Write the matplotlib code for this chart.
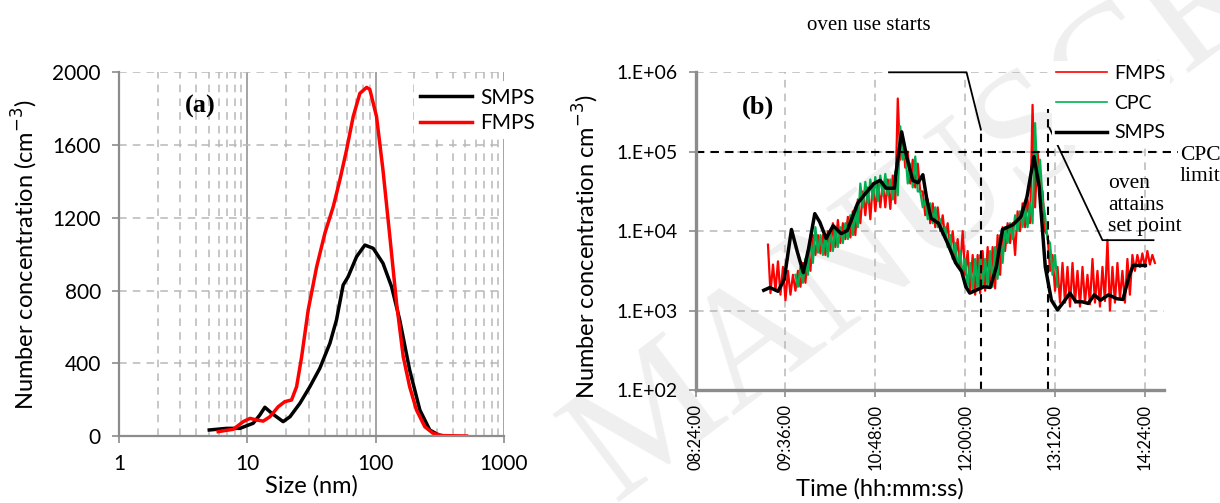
import matplotlib
matplotlib.use('Agg')
import matplotlib.pyplot as plt
from matplotlib.ticker import FixedLocator, NullFormatter
import numpy as np

plt.rcParams['font.family'] = ['Lato', 'DejaVu Sans']

# ---- panel (a): size distributions ----
smps_size = [5.05, 6.9, 8.75, 11.1, 12.5, 13.7, 15.5, 19, 21.5, 25.7, 30.7, 36.7, 44, 49.5,
             55.8, 61, 71, 82.4, 95.7, 114, 133, 154, 184, 221, 264, 316, 350]
smps_conc = [33, 42, 42, 70, 115, 158, 125, 79, 106, 180, 271, 372, 510, 638,
             830, 876, 986, 1050, 1032, 950, 821, 638, 363, 143, 33, 2, 0]
fmps_size = [5.93, 7.77, 9.3, 10.5, 11.8, 13.3, 15, 17.4, 19.6, 22.1, 24.2, 26.5, 29.8, 34.7,
             40.2, 46.7, 52.6, 59.3, 66.8, 75.3, 85, 90, 101.6, 114, 129, 145.5, 164, 184,
             208, 241.5, 280, 336, 511]
fmps_conc = [24, 37, 79, 97, 88, 82, 106, 161, 189, 198, 271, 436, 693, 931,
             1115, 1261, 1408, 1573, 1756, 1884, 1917, 1906, 1756, 1463, 1096, 730, 436, 271,
             143, 51, 15, 2, 0]

# ---- panel (b): time series, minutes after 08:24 ----
time_ticks = [0, 72, 144, 216, 288, 360]
time_labels = ['08:24:00', '09:36:00', '10:48:00', '12:00:00', '13:12:00', '14:24:00']

# FMPS / CPC noisy traces: upper and lower edge of the trace every 4 min (log10 cm^-3)
fmps_t = list(range(58, 367, 4))
fmps_hi = [3.83, 3.58, 3.62, 3.55, 3.50, 3.45, 3.50, 3.60, 3.75, 3.95, 3.95, 3.95, 4.00, 4.10,
           4.14, 4.10, 4.18, 4.25, 4.40, 4.50, 4.55, 4.60, 4.60, 4.62, 4.65, 4.70, 5.67, 5.20,
           5.00, 4.90, 4.85, 4.50, 4.40, 4.35, 4.30, 4.20, 4.10, 4.00, 3.90, 4.00, 3.75, 3.70,
           3.70, 3.75, 3.80, 3.80, 3.95, 4.05, 4.10, 4.10, 4.25, 4.35, 4.40, 5.59, 5.00, 4.50,
           3.95, 3.70, 3.55, 3.60, 3.55, 3.60, 3.50, 3.55, 3.45, 3.65, 3.50, 3.55, 3.89, 3.55,
           3.60, 3.50, 3.65, 3.70, 3.70, 3.72, 3.75, 3.70]
fmps_lo = [3.22, 3.25, 3.20, 3.13, 3.20, 3.25, 3.30, 3.35, 3.50, 3.70, 3.72, 3.70, 3.75, 3.80,
           3.85, 3.90, 3.92, 3.95, 4.10, 4.20, 4.15, 4.25, 4.30, 4.30, 4.28, 4.35, 4.90, 4.80,
           4.60, 4.55, 4.50, 4.20, 4.10, 4.05, 4.00, 3.90, 3.75, 3.65, 3.55, 3.45, 3.25, 3.20,
           3.22, 3.25, 3.30, 3.28, 3.45, 3.75, 3.85, 3.70, 4.00, 4.05, 4.10, 4.30, 4.60, 4.00,
           3.50, 3.25, 3.10, 3.10, 3.05, 3.10, 3.05, 3.10, 3.08, 3.10, 3.05, 3.12, 3.00, 3.10,
           3.15, 3.10, 3.20, 3.50, 3.55, 3.55, 3.58, 3.60]

cpc_t = list(range(80, 289, 4))
cpc_hi = [3.45, 3.55, 3.65, 3.95, 4.05, 3.95, 3.95, 4.00, 4.05, 4.05, 4.10, 4.20, 4.30, 4.60,
          4.62, 4.65, 4.68, 4.70, 4.72, 4.65, 4.75, 5.32, 5.00, 4.85, 4.94, 4.50, 4.40, 4.35,
          4.30, 4.15, 4.05, 3.95, 3.85, 3.75, 3.65, 3.60, 3.65, 3.70, 3.65, 3.75, 3.80, 3.95,
          4.05, 4.10, 4.20, 4.25, 4.30, 4.35, 5.36, 4.90, 4.20, 3.85, 3.70]
cpc_lo = [3.30, 3.35, 3.45, 3.60, 3.73, 3.70, 3.68, 3.75, 3.80, 3.85, 3.90, 3.95, 4.05, 4.30,
          4.35, 4.40, 4.38, 4.45, 4.45, 4.40, 4.45, 4.90, 4.60, 4.55, 4.50, 4.30, 4.15, 4.10,
          4.05, 3.95, 3.80, 3.65, 3.55, 3.45, 3.30, 3.25, 3.30, 3.30, 3.32, 3.30, 3.40, 3.60,
          3.85, 3.90, 4.00, 4.05, 4.05, 4.10, 4.60, 4.40, 3.90, 3.45, 3.30]

smps_t = [54.6, 59.5, 66, 71, 76.8, 81.5, 86.3, 90.5, 95.5, 99.5, 104.6, 110.2, 116.7, 121.6,
          129.8, 136.4, 142.9, 147.8, 152.7, 159.3, 160.9, 165.1, 169.1, 174, 178.2, 182.1,
          185.4, 188.7, 194.6, 201.8, 208.3, 213.2, 216.5, 219.7, 224.6, 231.2, 236.1, 241,
          245.9, 254.1, 260.6, 265.5, 271.1, 275.3, 280.2, 285.1, 290, 295, 299.9, 304.8,
          309.7, 314.6, 319.5, 324.4, 330.9, 337.5, 342.4, 347.3, 350.6, 360.4]
smps_conc_t = [1800, 1950, 1750, 2450, 10500, 5500, 3000, 6000, 16600, 13000, 8100, 11700, 9300,
               10200, 22400, 30200, 39800, 43600, 34700, 34700, 58900, 178000, 87100, 43600,
               40700, 51300, 24500, 14500, 12600, 7100, 4000, 3100, 2000, 1660, 1800, 2000,
               1950, 3550, 10500, 12000, 15100, 26900, 87100, 36300, 3550, 1350, 1020, 1290,
               1660, 1290, 1290, 1230, 1580, 1350, 1580, 1410, 1380, 2690, 3700, 3700]

cpc_limit = 1e5
oven_start = 228.6
oven_setpoint = 282.5

GRID = '#b8b8b8'
SPINE = '#8c8c8c'


def zigzag(t, hi, lo, step):
    xs, ys = [], []
    for ti, h, l in zip(t, hi, lo):
        xs += [ti, ti + step / 2]
        ys += [10 ** h, 10 ** l]
    return xs, ys


fig = plt.figure(figsize=(12.2, 5.03), dpi=100)

# faint watermark behind everything
fig.text(590 / 1220, 1 - 470 / 503, 'MANUSCRIPT', family='Liberation Serif', fontsize=120,
         color='#efefef', rotation=37, rotation_mode='anchor', ha='left', va='center', zorder=-5)

# ---------------- panel (a) ----------------
ax1 = fig.add_axes([119 / 1220, 1 - 436 / 503, 385 / 1220, 363.7 / 503])
ax1.patch.set_alpha(0)
ax1.set_xscale('log')
ax1.set_xlim(1, 1000)
ax1.set_ylim(0, 2000)
ax1.set_yticks([0, 400, 800, 1200, 1600, 2000])
ax1.set_xticks([1, 10, 100, 1000])
ax1.set_xticklabels(['1', '10', '100', '1000'])
ax1.xaxis.set_minor_locator(FixedLocator([m * 10 ** e for e in range(3) for m in range(2, 10)]))
ax1.xaxis.set_minor_formatter(NullFormatter())
ax1.tick_params(axis='x', which='minor', length=0)
ax1.grid(True, which='minor', axis='x', color=GRID, linestyle=(0, (5, 4)), linewidth=1.1)
ax1.grid(True, which='major', axis='x', color=SPINE, linestyle='-', linewidth=1.1)
ax1.grid(True, which='major', axis='y', color=GRID, linestyle=(0, (5, 4)), linewidth=1.1)
ax1.set_axisbelow(True)
for s in ['top', 'right']:
    ax1.spines[s].set_visible(False)
for s in ['left', 'bottom']:
    ax1.spines[s].set_color(SPINE)
    ax1.spines[s].set_linewidth(1.6)
ax1.tick_params(axis='both', which='major', direction='out', length=5, width=1.2,
                color=SPINE, labelsize=15, pad=8)

ax1.plot(smps_size, smps_conc, color='black', linewidth=2.5, label='SMPS')
ax1.plot(fmps_size, fmps_conc, color='#ff0000', linewidth=2.5, label='FMPS')
ax1.set_xlabel('Size (nm)', fontsize=17)
ax1.set_ylabel('Number concentration (cm$^{-3}$)', fontsize=17)
ax1.yaxis.set_label_coords(-0.205, 0.5)
ax1.xaxis.set_label_coords(0.5, -0.108)
ax1.text(0.21, 0.905, '(a)', transform=ax1.transAxes, family='Liberation Serif',
         fontweight='bold', fontsize=19, ha='center', va='center')
leg1 = ax1.legend(loc='upper left', bbox_to_anchor=(0.765, 0.975), fontsize=15, frameon=True,
                  framealpha=1, edgecolor='none', facecolor='white', handlelength=2.5,
                  handletextpad=0.4, labelspacing=0.25, borderaxespad=0, borderpad=0.3)
leg1.set_zorder(5)

# ---------------- panel (b) ----------------
ax2 = fig.add_axes([695.6 / 1220, 1 - 390 / 503, 468 / 1220, 317.7 / 503])
ax2.patch.set_alpha(0)
ax2.set_yscale('log')
ax2.set_ylim(1e2, 1e6)
ax2.set_xlim(0, 375)
ax2.set_xticks(time_ticks)
ax2.set_xticklabels(time_labels, rotation=90)
ax2.set_yticks([1e2, 1e3, 1e4, 1e5, 1e6])
ax2.set_yticklabels(['1.E+02', '1.E+03', '1.E+04', '1.E+05', '1.E+06'])
ax2.yaxis.set_minor_locator(FixedLocator([]))
ax2.grid(True, which='major', color=GRID, linestyle=(0, (5, 4)), linewidth=1.1)
ax2.set_axisbelow(True)
for s in ['top', 'right']:
    ax2.spines[s].set_visible(False)
for s in ['left', 'bottom']:
    ax2.spines[s].set_color(SPINE)
    ax2.spines[s].set_linewidth(2.4)
ax2.tick_params(axis='both', which='major', direction='out', length=5, width=1.2,
                color=SPINE, labelsize=14)
ax2.tick_params(axis='y', pad=8)
ax2.tick_params(axis='x', pad=5, labelsize=12)

fx, fy = zigzag(fmps_t, fmps_hi, fmps_lo, 4)
cx, cy = zigzag(cpc_t, cpc_hi, cpc_lo, 4)
ax2.plot(fx, fy, color='#ff0000', linewidth=1.6, label='FMPS')
ax2.plot(cx, cy, color='#00b050', linewidth=1.6, label='CPC')
ax2.plot(smps_t, smps_conc_t, color='black', linewidth=2.5, label='SMPS')

# CPC limit and oven markers
ax2.plot([0, 386.5], [cpc_limit, cpc_limit], color='black', linestyle=(0, (4, 3)),
         linewidth=1.5, clip_on=False)
ax2.plot([oven_start, oven_start], [1e2, 1.9e5], color='black', linestyle=(0, (4, 3)),
         linewidth=1.5)
ax2.plot([oven_setpoint, oven_setpoint], [1e2, 3.5e5], color='black', linestyle=(0, (4, 3)),
         linewidth=1.5)
ax2.plot([155, 217.1, oven_start], [1e6, 1e6, 1.9e5], color='black', linewidth=1.3,
         clip_on=False)
ax2.plot([283.5, 326, 366.9], [2.0e5, 7.7e3, 7.7e3], color='black', linewidth=1.3,
         clip_on=False)

ax2.set_xlabel('Time (hh:mm:ss)', fontsize=17)
ax2.set_ylabel('Number concentration cm$^{-3}$)', fontsize=17)
ax2.yaxis.set_label_coords(-0.203, 0.45)
ax2.xaxis.set_label_coords(0.394, -0.277)
ax2.text(0.1325, 0.89, '(b)', transform=ax2.transAxes, family='Liberation Serif',
         fontweight='bold', fontsize=19, ha='center', va='center')
leg2 = ax2.legend(loc='upper left', bbox_to_anchor=(0.762, 1.035), fontsize=14, frameon=True,
                  framealpha=1, edgecolor='none', facecolor='white', handlelength=2.6,
                  handletextpad=0.4, labelspacing=0.65, borderaxespad=0, borderpad=0.2)
leg2.set_zorder(5)
for h in leg2.get_lines()[:2]:
    h.set_linewidth(1.2)

serif = 'Liberation Serif'
fig.text(869 / 1220, 1 - 26 / 503, 'oven use starts', family=serif, fontsize=15,
         ha='center', va='center')
fig.text(1180 / 1220, 1 - 166 / 503, 'CPC\nlimit', family=serif, fontsize=15.5,
         ha='left', va='center', linespacing=1.15)
fig.text(1108 / 1220, 1 - 205 / 503, 'oven\nattains\nset point', family=serif, fontsize=15.5,
         ha='left', va='center', linespacing=1.15)

plt.savefig('out.png', dpi=100)
plt.close()
